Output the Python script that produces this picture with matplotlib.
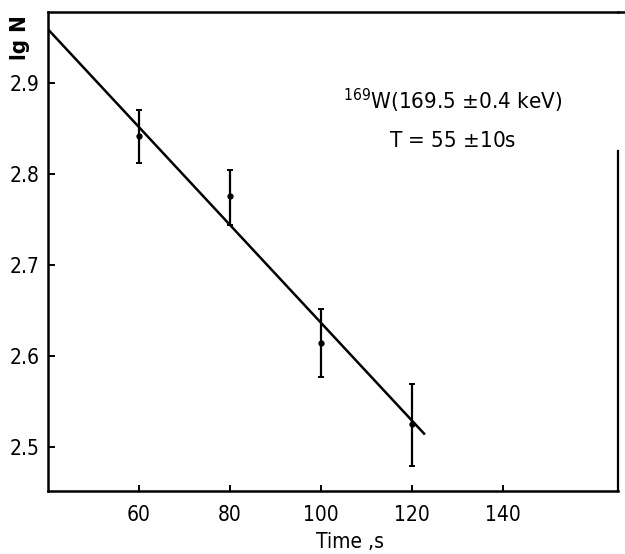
import matplotlib
matplotlib.use('Agg')
import matplotlib.pyplot as plt
from matplotlib.lines import Line2D

plt.rcParams['font.family'] = ['DejaVu Sans']
plt.rcParams['font.stretch'] = 'condensed'
plt.rcParams['mathtext.fontset'] = 'custom'
plt.rcParams['mathtext.rm'] = 'DejaVu Sans:stretch=condensed'

# dados
tempo = [60, 80, 100, 120]
lg_n = [2.842, 2.776, 2.615, 2.526]
erro_sup = [0.028, 0.029, 0.037, 0.043]
erro_inf = [0.030, 0.032, 0.038, 0.047]

# reta de ajuste (pontos extremos)
reta_t = [40, 122.6]
reta_lg = [2.959, 2.515]

x_ticks = [60, 80, 100, 120, 140]
y_ticks = [2.5, 2.6, 2.7, 2.8, 2.9]
y_rotulos = ['2.5', '2.6', '2.7', '2.8', '2.9']

fig = plt.figure(figsize=(6.25, 5.54), dpi=100)
ax = fig.add_axes([48 / 625, 1 - 491 / 554, (618 - 48) / 625, (491 - 12) / 554])

ax.plot(reta_t, reta_lg, color='black', lw=1.8)
ax.errorbar(tempo, lg_n, yerr=[erro_inf, erro_sup], fmt='o', color='black',
            ms=3.5, elinewidth=1.6, capsize=2, capthick=1.4)

ax.set_xlim(40, 165.2)
ax.set_ylim(2.452, 2.978)
ax.set_xticks(x_ticks)
ax.set_xticklabels([str(v) for v in x_ticks])
ax.set_yticks(y_ticks)
ax.set_yticklabels(y_rotulos)
ax.tick_params(direction='in', length=5, width=1.4, labelsize=15, pad=6)
ax.tick_params(axis='x', length=4, pad=10)

for lado in ['left', 'bottom', 'top']:
    ax.spines[lado].set_linewidth(1.8)
ax.spines['right'].set_visible(False)
# borda direita só na parte de baixo, e a de cima passa da margem
ax.add_line(Line2D([1, 1], [0, 0.71], transform=ax.transAxes, color='black',
                   lw=1.6, clip_on=False))
ax.add_line(Line2D([1, 1.02], [1, 1], transform=ax.transAxes, color='black',
                   lw=1.8, clip_on=False))

fig.text(20 / 625, 1 - 38 / 554, 'lg N', rotation=90, ha='center', va='center',
         fontsize=16, fontweight='bold')
ax.set_xlabel('Time ,s', fontsize=15)
ax.xaxis.set_label_coords(0.53, -0.085)

ax.text(0.71, 0.815, r'$^{169}$W(169.5 $\pm$0.4 keV)', transform=ax.transAxes,
        ha='center', va='center', fontsize=16)
ax.text(0.71, 0.73, r'T = 55 $\pm$10s', transform=ax.transAxes,
        ha='center', va='center', fontsize=16)

plt.savefig('out.png', dpi=100)
plt.close()
